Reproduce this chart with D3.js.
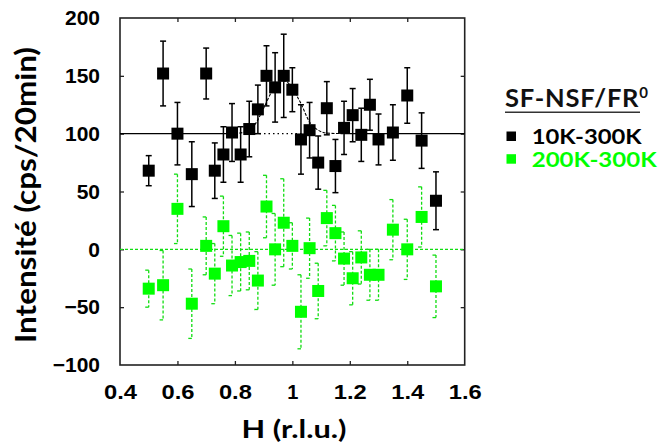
<!DOCTYPE html>
<html><head><meta charset="utf-8">
<script src="https://cdn.jsdelivr.net/npm/d3@7"></script>
<style>body{margin:0;background:#fff}svg{display:block}</style>
</head><body><svg id="c" width="664" height="447"></svg>
<script>
// ---------- data ----------
const H = [0.50,0.55,0.60,0.65,0.70,0.73,0.76,0.79,0.82,0.85,0.88,0.91,0.94,0.97,1.00,1.03,1.06,1.09,1.12,1.15,1.18,1.21,1.24,1.27,1.30,1.35,1.40,1.45,1.50];
const s10K = [68,152,100,65,152,68,82,101,82,104,121,150,140,150,138,95,103,75,122,72,105,116,99,125,95,101,133,94,42];
const s10KErr = [13,28,27,28,22,24,24,25,24,24,21,26,30,36,19,30,24,23,23,23,23,23,23,22,22,24,24,24,25];
const s200K = [-34,-31,35,-47,3,-21,20,-14,-11,-10,-27,37,0,23,3,-54,1,-36,27,14,-8,-25,-7,-22,-22,17,0,28,-32];
const s200KErr = [16,30,30,30,25,26,26,26,25,25,25,27,31,38,20,32,26,24,24,24,23,23,23,22,22,26,26,26,27];
const fitH = [0.80,0.84,0.87,0.90,0.93,0.96,0.98,1.00,1.03,1.06,1.09,1.12,1.18];
const fitI = [100,102,108,122,137,146,145,139,126,110,103,100.5,100];
const baseline10K = 100, baseline200K = 0;
const xTicks = [0.4,0.6,0.8,1.0,1.2,1.4,1.6];
const xTickLabels = ["0.4","0.6","0.8","1","1.2","1.4","1.6"];
const yTicks = [-100,-50,0,50,100,150,200];
const yTickLabels = ["\u2212100","\u221250","0","50","100","150","200"];
const legendTitle = "SF-NSF/FR", legendSup = "0";
const seriesNames = ["10K-300K","200K-300K"];
const seriesColors = ["#000000","#00ff00"];
const xTitle = "H (r.l.u.)", yTitle = "Intensité (cps/20min)";

// ---------- layout ----------
const L = 120, R = 464.7, T = 18, B = 365;
const svg = d3.select("#c");
const x = d3.scaleLinear().domain([0.4,1.6]).range([L,R]);
const y = d3.scaleLinear().domain([-100,200]).range([B,T]);
const green = "#00ff00", gline = "#11dd11";
const tickFont = "'Liberation Sans', Arial, sans-serif";
const titleFont = "Lato, 'Open Sans', sans-serif";

// axes (inward ticks on all sides)
const inner = v => v.filter(d => d > xTicks[0] && d < xTicks[xTicks.length-1]);
const innerY = v => v.filter(d => d > yTicks[0] && d < yTicks[yTicks.length-1]);

const gB = svg.append("g").attr("transform",`translate(0,${B})`)
  .call(d3.axisBottom(x).tickValues(xTicks).tickFormat((d,i)=>xTickLabels[i]).tickSize(-4).tickPadding(20));
const gL = svg.append("g").attr("transform",`translate(${L},0)`)
  .call(d3.axisLeft(y).tickValues(yTicks).tickFormat((d,i)=>yTickLabels[i]).tickSize(-4).tickPadding(20));
svg.append("g").attr("transform",`translate(0,${T})`)
  .call(d3.axisTop(x).tickValues(inner(xTicks)).tickFormat("").tickSize(-4));
svg.append("g").attr("transform",`translate(${R},0)`)
  .call(d3.axisRight(y).tickValues(innerY(yTicks)).tickFormat("").tickSize(-4));
svg.selectAll(".domain").remove();
svg.selectAll(".tick line").attr("stroke","#222").attr("stroke-width",1.3);
gB.selectAll(".tick").filter(d=>d===xTicks[0]||d===xTicks[xTicks.length-1]).select("line").remove();
gL.selectAll(".tick").filter(d=>d===yTicks[0]||d===yTicks[yTicks.length-1]).select("line").remove();

gB.selectAll(".tick text").attr("font-family",tickFont).attr("font-weight","bold").attr("font-size",20).attr("fill","#000")
  .each(function(){ const t=d3.select(this); if(t.text().length>1){ t.attr("textLength",33).attr("lengthAdjust","spacingAndGlyphs"); }});
gL.selectAll(".tick text").attr("font-family",tickFont).attr("font-weight","bold").attr("font-size",21).attr("fill","#000");

// frame
svg.append("rect").attr("x",L).attr("y",T).attr("width",R-L).attr("height",B-T)
  .attr("fill","none").attr("stroke","#222").attr("stroke-width",1.6);

const plot = svg.append("g");

// green baseline (dashed)
plot.append("line").attr("x1",x(0.4)).attr("x2",x(1.6)).attr("y1",y(baseline200K)).attr("y2",y(baseline200K))
  .attr("stroke",gline).attr("stroke-width",1.2).attr("stroke-dasharray","3,2");

// black baseline: solid outside the peak, dotted under it
[[0.4,0.80],[1.18,1.6]].forEach(s=>{
  plot.append("line").attr("x1",x(s[0])).attr("x2",x(s[1])).attr("y1",y(baseline10K)).attr("y2",y(baseline10K))
    .attr("stroke","#000").attr("stroke-width",1.3);
});
plot.append("line").attr("x1",x(0.87)).attr("x2",x(1.05)).attr("y1",y(baseline10K)).attr("y2",y(baseline10K))
  .attr("stroke","#000").attr("stroke-width",1.1).attr("stroke-dasharray","1.5,3");
// fit curve
plot.append("path").datum(fitH.map((h,i)=>[h,fitI[i]]))
  .attr("d",d3.line().x(d=>x(d[0])).y(d=>y(d[1])).curve(d3.curveMonotoneX))
  .attr("fill","none").attr("stroke","#000").attr("stroke-width",1.1).attr("stroke-dasharray","3,1.5");

// green series
const gG = plot.append("g");
H.forEach((h,i)=>{
  const cx = x(h), v = s200K[i], e = s200KErr[i];
  const y1 = y(v+e), y2 = y(v-e);
  gG.append("line").attr("x1",cx).attr("x2",cx).attr("y1",y1).attr("y2",y2)
    .attr("stroke",gline).attr("stroke-width",1.3).attr("stroke-dasharray","3,2");
  [y1,y2].forEach(yy=>gG.append("line").attr("x1",cx-3.5).attr("x2",cx).attr("y1",yy).attr("y2",yy)
    .attr("stroke",gline).attr("stroke-width",1.3));
  gG.append("rect").attr("x",cx-6).attr("y",y(v)-6).attr("width",12).attr("height",12).attr("fill",green);
});

// black series
const gK = plot.append("g");
H.forEach((h,i)=>{
  const cx = x(h), v = s10K[i], e = s10KErr[i];
  const y1 = y(v+e), y2 = y(v-e);
  gK.append("line").attr("x1",cx).attr("x2",cx).attr("y1",y1).attr("y2",y2)
    .attr("stroke","#000").attr("stroke-width",1.5);
  [y1,y2].forEach(yy=>gK.append("line").attr("x1",cx-3).attr("x2",cx+3).attr("y1",yy).attr("y2",yy)
    .attr("stroke","#000").attr("stroke-width",1.5));
  gK.append("rect").attr("x",cx-6).attr("y",y(v)-6).attr("width",12).attr("height",12).attr("fill","#000");
});

// axis titles
svg.append("text").attr("x",294).attr("y",438).attr("text-anchor","middle")
  .attr("font-family",titleFont).attr("font-weight","bold").attr("font-size",25).attr("fill","#000")
  .attr("textLength",105).attr("lengthAdjust","spacingAndGlyphs").text(xTitle);
svg.append("text").attr("transform","translate(36,195) rotate(-90)").attr("text-anchor","middle")
  .attr("font-family",titleFont).attr("font-weight","bold").attr("font-size",28).attr("fill","#000")
  .attr("textLength",296).attr("lengthAdjust","spacingAndGlyphs").text(yTitle);

// legend
const lg = svg.append("g");
const lt = lg.append("text").attr("x",505).attr("y",106.7)
  .attr("font-family",titleFont).attr("font-weight","bold").attr("font-size",25.5).attr("fill","#111");
lt.append("tspan").attr("letter-spacing",0.8).text(legendTitle);
lt.append("tspan").attr("dy",-9).attr("font-size",15).text(legendSup);
lg.append("line").attr("x1",505).attr("x2",640).attr("y1",112.3).attr("y2",112.3).attr("stroke","#333").attr("stroke-width",1.6);
const rowsY = [144, 166.7];
seriesNames.forEach((n,i)=>{
  lg.append("rect").attr("x",506.5).attr("y",rowsY[i]-12.5).attr("width",9.5).attr("height",9.5).attr("fill",seriesColors[i]);
  lg.append("text").attr("x",531.7).attr("y",rowsY[i]).attr("font-family",titleFont).attr("font-weight","bold")
    .attr("font-size",20.5).attr("fill",seriesColors[i]).attr("textLength", i===0?110:125).attr("lengthAdjust","spacingAndGlyphs").text(n);
});
</script></body></html>
